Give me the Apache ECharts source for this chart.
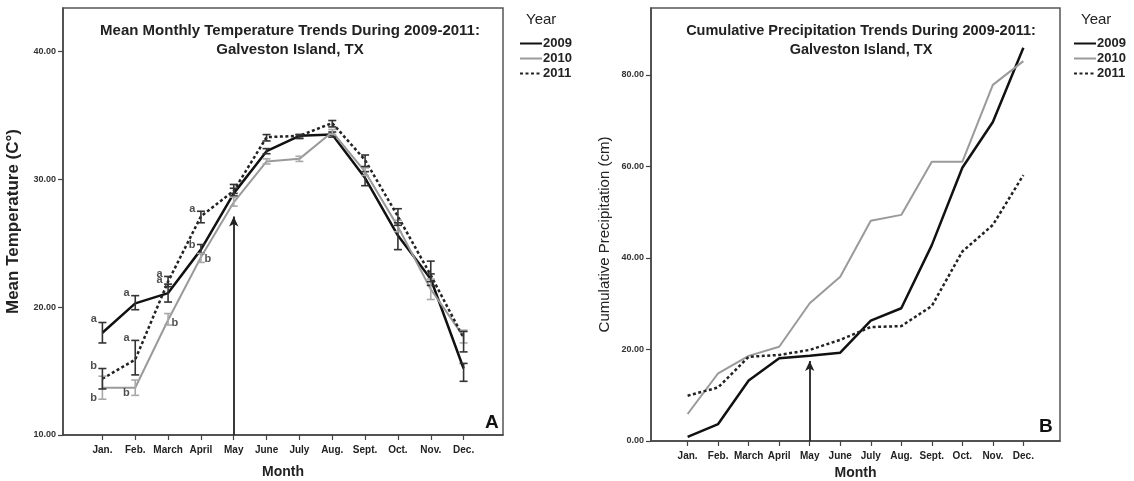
<!DOCTYPE html>
<html>
<head>
<meta charset="utf-8">
<script src="https://cdn.jsdelivr.net/npm/echarts@6/dist/echarts.min.js"></script>
<style>
  html, body { margin: 0; padding: 0; background: #fff; }
  #main { width: 1134px; height: 481px; }
</style>
</head>
<body>
<div id="main"></div>
<script>
const months = ["Jan.", "Feb.", "March", "April", "May", "June", "July", "Aug.", "Sept.", "Oct.", "Nov.", "Dec."];
const monthNums = [1, 2, 3, 4, 5, 6, 7, 8, 9, 10, 11, 12];
const years = ["2009", "2010", "2011"];

// panel A: mean monthly temperature (C)
const temp2009 = [18.0, 20.3, 21.1, 24.5, 28.9, 32.2, 33.4, 33.5, 30.1, 25.6, 22.2, 15.2];
const temp2010 = [13.7, 13.7, 19.0, 23.9, 28.2, 31.4, 31.6, 33.7, 30.6, 26.3, 21.4, 17.7];
const temp2011 = [14.4, 15.9, 22.0, 27.1, 29.1, 33.3, 33.4, 34.4, 31.5, 27.1, 22.5, 17.6];
// error bars (low / high)
const err2009Low = [17.2, 19.8, 20.4, 24.2, 28.7, 32.0, 33.2, 33.3, 29.5, 24.5, 21.7, 14.2];
const err2009High = [18.8, 20.9, 21.8, 24.9, 29.3, 32.4, 33.5, 33.7, 30.6, 26.6, 22.6, 15.6];
const err2010Low = [12.8, 13.1, 18.6, 23.5, 27.9, 31.2, 31.4, 33.5, 30.3, 25.9, 20.6, 17.2];
const err2010High = [14.6, 14.3, 19.5, 24.2, 28.6, 31.6, 31.8, 33.9, 30.9, 26.8, 22.2, 18.2];
const err2011Low = [13.6, 14.7, 21.6, 26.6, 28.9, 33.0, 33.2, 34.1, 31.0, 26.4, 22.0, 16.5];
const err2011High = [15.2, 17.4, 22.4, 27.5, 29.6, 33.5, 33.5, 34.6, 31.9, 27.7, 23.6, 18.1];
// significance letters
const letterMonth = [1, 1, 1, 2, 2, 2, 3, 3, 3, 4, 4, 4];
const letterValue = [19.1, 15.4, 12.9, 21.1, 17.6, 13.3, 22.6, 22.1, 18.8, 27.7, 24.9, 23.8];
const letterText = ["a", "b", "b", "a", "a", "b", "a", "a", "b", "a", "b", "b"];
const letterSide = ["left", "left", "left", "left", "left", "left", "left", "left", "right", "left", "left", "right"];
const tempTicks = [10, 20, 30, 40];
const tempArrow = [5, 10, 27.1];

// panel B: cumulative precipitation (cm)
const rain2009 = [0.9, 3.7, 13.2, 18.1, 18.6, 19.3, 26.3, 29.0, 42.8, 59.7, 69.7, 85.9];
const rain2010 = [5.9, 14.8, 18.6, 20.6, 30.1, 35.9, 48.1, 49.4, 61.0, 61.0, 77.8, 83.0];
const rain2011 = [9.9, 11.7, 18.4, 18.8, 19.9, 22.1, 24.9, 25.1, 29.5, 41.4, 47.2, 58.1];
const rainTicks = [0, 20, 40, 60, 80];
const rainArrow = [5, 0, 17.5];

const FONT = "Liberation Sans, Arial, sans-serif";
const lineStyles = [
  { color: "#111", width: 2.5, type: "solid" },
  { color: "#9a9a9a", width: 2, type: "solid" },
  { color: "#222", width: 2.5, type: [3, 2.5] },
];
const errColors = ["#333", "#a8a8a8", "#333"];

function pairs(values) {
  return monthNums.map((m, i) => [m, values[i]]);
}

function errData(low, high) {
  return monthNums.map((m, i) => [m, low[i], high[i]]);
}

function renderErr(params, api) {
  const x = api.value(0);
  const p1 = api.coord([x, api.value(1)]);
  const p2 = api.coord([x, api.value(2)]);
  const style = { stroke: api.visual("color"), lineWidth: 1.6 };
  const w = 4;
  return {
    type: "group",
    children: [
      { type: "line", shape: { x1: p1[0], y1: p1[1], x2: p2[0], y2: p2[1] }, style },
      { type: "line", shape: { x1: p1[0] - w, y1: p1[1], x2: p1[0] + w, y2: p1[1] }, style },
      { type: "line", shape: { x1: p2[0] - w, y1: p2[1], x2: p2[0] + w, y2: p2[1] }, style },
    ],
  };
}

function xAxisFor(gridIndex, nameGap) {
  return {
    type: "value",
    gridIndex: gridIndex,
    min: -0.2,
    max: 13.2,
    name: "Month",
    nameLocation: "middle",
    nameGap: nameGap,
    nameTextStyle: { fontFamily: FONT, fontSize: 14, fontWeight: "bold", color: "#222" },
    axisLine: { show: true, onZero: false, lineStyle: { color: "#444", width: 1.5 } },
    axisTick: { show: true, length: 5, customValues: monthNums, lineStyle: { color: "#444", width: 1.2 } },
    axisLabel: {
      customValues: monthNums,
      formatter: (v) => months[v - 1],
      fontFamily: FONT,
      fontSize: 10,
      fontWeight: "bold",
      color: "#222",
      margin: 10,
    },
    splitLine: { show: false },
  };
}

function yAxisFor(gridIndex, min, max, ticks, name, nameStyle, nameGap) {
  return {
    type: "value",
    gridIndex: gridIndex,
    min: min,
    max: max,
    name: name,
    nameLocation: "middle",
    nameGap: nameGap,
    nameTextStyle: nameStyle,
    axisLine: { show: true, onZero: false, lineStyle: { color: "#444", width: 1.5 } },
    axisTick: { show: true, length: 5, customValues: ticks, lineStyle: { color: "#444", width: 1.2 } },
    axisLabel: {
      customValues: ticks,
      formatter: (v) => v.toFixed(2),
      fontFamily: FONT,
      fontSize: 9,
      fontWeight: "bold",
      color: "#333",
      margin: 7,
    },
    splitLine: { show: false },
  };
}

function arrowLine(arrow) {
  return {
    silent: true,
    symbol: ["none", "arrow"],
    symbolSize: [7, 10],
    label: { show: false },
    lineStyle: { color: "#222", width: 1.8, type: "solid" },
    data: [[{ coord: [arrow[0], arrow[1]] }, { coord: [arrow[0], arrow[2]] }]],
  };
}

const tempSeries = [temp2009, temp2010, temp2011];
const tempErr = [errData(err2009Low, err2009High), errData(err2010Low, err2010High), errData(err2011Low, err2011High)];
const rainSeries = [rain2009, rain2010, rain2011];

let series = [];
years.forEach((y, i) => {
  series.push({
    name: y,
    type: "line",
    xAxisIndex: 0,
    yAxisIndex: 0,
    data: pairs(tempSeries[i]),
    symbol: "none",
    color: lineStyles[i].color,
    lineStyle: { ...lineStyles[i] },
    z: 3,
    markLine: i == 0 ? arrowLine(tempArrow) : undefined,
  });
  series.push({
    name: "err" + y,
    type: "custom",
    xAxisIndex: 0,
    yAxisIndex: 0,
    data: tempErr[i],
    encode: { x: 0, y: [1, 2] },
    itemStyle: { color: errColors[i] },
    renderItem: renderErr,
    z: 4,
  });
});
years.forEach((y, i) => {
  series.push({
    name: y,
    type: "line",
    xAxisIndex: 1,
    yAxisIndex: 1,
    data: pairs(rainSeries[i]),
    symbol: "none",
    color: lineStyles[i].color,
    lineStyle: { ...lineStyles[i] },
    z: 3,
    markLine: i == 0 ? arrowLine(rainArrow) : undefined,
  });
});
series.push({
  name: "letters",
  type: "scatter",
  xAxisIndex: 0,
  yAxisIndex: 0,
  symbolSize: 1,
  itemStyle: { color: "rgba(0,0,0,0)" },
  z: 5,
  data: letterMonth.map((m, i) => ({
    value: [m, letterValue[i]],
    label: {
      show: true,
      formatter: letterText[i],
      position: letterSide[i],
      distance: letterSide[i] == "left" ? 5 : 3,
      fontFamily: FONT,
      fontSize: 11,
      fontWeight: "bold",
      color: "#222",
    },
  })),
});

const legendBase = {
  orient: "vertical",
  top: 32,
  itemWidth: 22,
  itemHeight: 13,
  itemGap: 2,
  data: years,
  itemStyle: { color: "rgba(0,0,0,0)", borderWidth: 0 },
  textStyle: { fontFamily: FONT, fontSize: 13, fontWeight: "bold", color: "#222", padding: [0, 0, 0, -4] },
};

const option = {
  animation: false,
  backgroundColor: "#fff",
  title: [
    {
      text: "Mean Monthly Temperature Trends During 2009-2011:\nGalveston Island, TX",
      left: 285,
      top: 16,
      textAlign: "center",
      textStyle: { fontFamily: FONT, fontSize: 15, fontWeight: "bold", color: "#222", lineHeight: 19 },
    },
    {
      text: "Cumulative Precipitation Trends During 2009-2011:\nGalveston Island, TX",
      left: 856,
      top: 16,
      textAlign: "center",
      textStyle: { fontFamily: FONT, fontSize: 14.5, fontWeight: "bold", color: "#222", lineHeight: 19 },
    },
  ],
  legend: [
    { ...legendBase, left: 514 },
    { ...legendBase, left: 1068 },
  ],
  graphic: [
    { type: "text", left: 526, top: 12, style: { text: "Year", font: "15px " + FONT, fill: "#222" } },
    { type: "text", left: 1081, top: 12, style: { text: "Year", font: "15px " + FONT, fill: "#222" } },
    { type: "text", left: 485, top: 413, style: { text: "A", font: "bold 19px " + FONT, fill: "#111" } },
    { type: "text", left: 1039, top: 417, style: { text: "B", font: "bold 19px " + FONT, fill: "#111" } },
  ],
  grid: [
    { left: 63, right: 631, top: 8, bottom: 46, outerBoundsMode: "none", show: true, borderColor: "#555", borderWidth: 1.5 },
    { left: 651, right: 74, top: 8, bottom: 40, outerBoundsMode: "none", show: true, borderColor: "#555", borderWidth: 1.5 },
  ],
  xAxis: [xAxisFor(0, 30), xAxisFor(1, 25)],
  yAxis: [
    yAxisFor(0, 10, 43.4, tempTicks, "Mean Temperature (C°)",
      { fontFamily: FONT, fontSize: 17, fontWeight: "bold", color: "#222" }, 41),
    yAxisFor(1, 0, 94.6, rainTicks, "Cumulative Precipitation (cm)",
      { fontFamily: FONT, fontSize: 15, color: "#222", padding: [0, 20, 0, 0] }, 39),
  ],
  series: series,
};

const myChart = echarts.init(document.getElementById("main"));
myChart.setOption(option);
</script>
</body>
</html>
